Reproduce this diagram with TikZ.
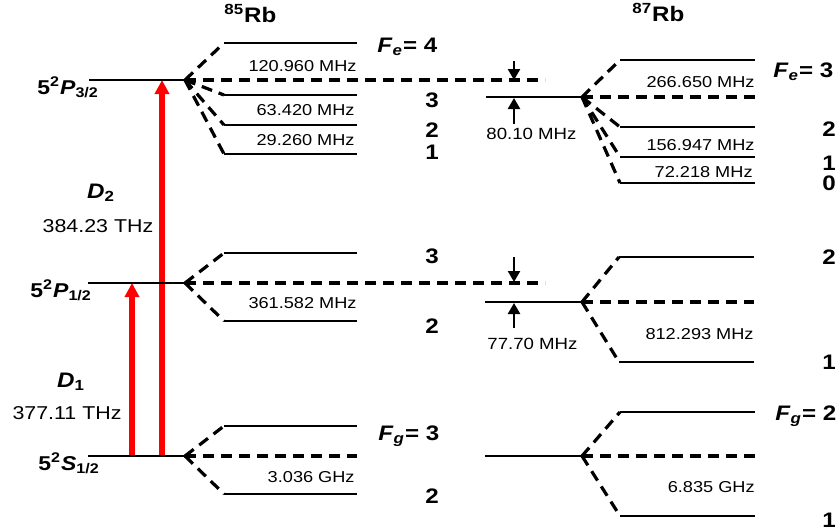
\documentclass[tikz,border=0pt]{standalone}
\usepackage{fontspec}
\setmainfont{Liberation Sans}[FakeStretch=1.15]
\usetikzlibrary{arrows.meta}

\tikzset{
  lvl/.style={line width=1.3pt},
  split/.style={line width=1.6pt, dash pattern=on 5.5pt off 3.5pt},
  freq/.style={anchor=base east, inner sep=0pt, font=\fontsize{7.9}{9}\selectfont},
  gaptext/.style={anchor=base west, inner sep=0pt, font=\fontsize{8.1}{10}\selectfont},
  thz/.style={anchor=base, inner sep=0pt, font=\fontsize{9.3}{11}\selectfont},
  quant/.style={anchor=base, inner sep=0pt, font=\bfseries\fontsize{10.5}{13}\selectfont},
  term/.style={anchor=base west, inner sep=0pt, font=\bfseries\fontsize{10}{12}\selectfont},
  pump/.style={red, line width=3pt, -{Triangle[width=7pt,length=7pt]}},
  gap/.style={line width=1.2pt, -{Triangle[width=6pt,length=5.5pt]}},
}

\begin{document}
\begin{tikzpicture}[x=0.5pt, y=-0.5pt]
  \useasboundingbox (0,0) rectangle (838,530);
  \node[term, font=\bfseries\fontsize{10.5}{12}\selectfont] (n85) at (224,22) {\textsuperscript{85}Rb};
  \node[term, font=\bfseries\fontsize{10.5}{12}\selectfont] (n87) at (632,21) {\textsuperscript{87}Rb};

  % optical transitions
  \coordinate (s1) at (132,456);
  \coordinate (p1) at (132,283);
  \coordinate (s2) at (162,456);
  \coordinate (p2) at (162,80);
  \draw[pump] (s1) -- (p1);
  \draw[pump] (s2) -- (p2);
  \node[quant] (d2) at (101,198) {\textit{D}\textsubscript{2}};
  \node[thz] (d2f) at (98,232) {384.23 THz};
  \node[quant] (d1) at (71,387) {\textit{D}\textsubscript{1}};
  \node[thz] (d1f) at (67,419) {377.11 THz};

  % 5P3/2
  \node[term] (tP3) at (37,94) {5\textsuperscript{2}\textit{P}\textsubscript{3/2}};
  \coordinate (P3a) at (89,80);
  \coordinate (P3b) at (185,80);
  \coordinate (P3c) at (545,80);
  \draw[lvl] (P3a) -- (P3b);
  \draw[split] (P3b) -- (P3c);
  \foreach \y in {43,95,125,154}{
      \coordinate (h\y) at (224,\y);
      \draw[split] (P3b) -- (h\y);
      \draw[lvl] (h\y) -- ++(133,0);
  }
  \coordinate (Q3a) at (486,97);
  \coordinate (Q3b) at (582,97);
  \coordinate (Q3c) at (755,97);
  \draw[lvl] (Q3a) -- (Q3b);
  \draw[split] (Q3b) -- (Q3c);
  \foreach \y in {60,127,157,183}{
      \coordinate (k\y) at (620,\y);
      \draw[split] (Q3b) -- (k\y);
      \draw[lvl] (k\y) -- ++(135,0);
  }
  \coordinate (u1) at (514,61);
  \coordinate (u2) at (514,80);
  \coordinate (u3) at (514,124);
  \coordinate (u4) at (514,98);
  \draw[gap] (u1) -- (u2);
  \draw[gap] (u3) -- (u4);
  \node[gaptext] (g3) at (486,139) {80.10 MHz};
  \node[freq] (f43) at (357,71) {120.960 MHz};
  \node[freq] (f32) at (355,115) {63.420 MHz};
  \node[freq] (f21) at (355,145) {29.260 MHz};
  \node[freq] (e32) at (755,87) {266.650 MHz};
  \node[freq] (e21) at (755,150) {156.947 MHz};
  \node[freq] (e10) at (753,177) {72.218 MHz};
  \node[quant, anchor=base west] (fe4) at (377,52) {\textit{F}\textsubscript{\textit{e}}= 4};
  \node[quant] (fe3) at (432,107) {3};
  \node[quant] (fe2) at (432,137) {2};
  \node[quant] (fe1) at (432,159) {1};
  \node[quant, anchor=base west] (ge3) at (773,77) {\textit{F}\textsubscript{\textit{e}}= 3};
  \node[quant] (ge2) at (829,136) {2};
  \node[quant] (ge1) at (829,170) {1};
  \node[quant] (ge0) at (829,190) {0};

  % 5P1/2
  \node[term] (tP1) at (30,297) {5\textsuperscript{2}\textit{P}\textsubscript{1/2}};
  \coordinate (P1a) at (88,283);
  \coordinate (P1b) at (185,283);
  \coordinate (P1c) at (545,283);
  \draw[lvl] (P1a) -- (P1b);
  \draw[split] (P1b) -- (P1c);
  \foreach \y in {253,321}{
      \coordinate (h\y) at (224,\y);
      \draw[split] (P1b) -- (h\y);
      \draw[lvl] (h\y) -- ++(133,0);
  }
  \coordinate (Q1a) at (485,302);
  \coordinate (Q1b) at (582,302);
  \coordinate (Q1c) at (754,302);
  \draw[lvl] (Q1a) -- (Q1b);
  \draw[split] (Q1b) -- (Q1c);
  \foreach \y in {257,362}{
      \coordinate (k\y) at (619,\y);
      \draw[split] (Q1b) -- (k\y);
      \draw[lvl] (k\y) -- ++(135,0);
  }
  \coordinate (v1) at (514,257);
  \coordinate (v2) at (514,282);
  \coordinate (v3) at (514,328);
  \coordinate (v4) at (514,303);
  \draw[gap] (v1) -- (v2);
  \draw[gap] (v3) -- (v4);
  \node[gaptext] (g1) at (487,349) {77.70 MHz};
  \node[freq] (f1) at (357,308) {361.582 MHz};
  \node[freq] (e1) at (754,339) {812.293 MHz};
  \node[quant] (fp3) at (432,263) {3};
  \node[quant] (fp2) at (432,333) {2};
  \node[quant] (gp2) at (829,264) {2};
  \node[quant] (gp1) at (829,369) {1};

  % 5S1/2
  \node[term] (tS) at (38,470) {5\textsuperscript{2}\textit{S}\textsubscript{1/2}};
  \coordinate (Sa) at (88,456);
  \coordinate (Sb) at (185,456);
  \coordinate (Sc) at (357,456);
  \draw[lvl] (Sa) -- (Sb);
  \draw[split] (Sb) -- (Sc);
  \foreach \y in {426,494}{
      \coordinate (h\y) at (224,\y);
      \draw[split] (Sb) -- (h\y);
      \draw[lvl] (h\y) -- ++(133,0);
  }
  \coordinate (Ta) at (485,456);
  \coordinate (Tb) at (582,456);
  \coordinate (Tc) at (755,456);
  \draw[lvl] (Ta) -- (Tb);
  \draw[split] (Tb) -- (Tc);
  \foreach \y in {412,516}{
      \coordinate (k\y) at (620,\y);
      \draw[split] (Tb) -- (k\y);
      \draw[lvl] (k\y) -- ++(135,0);
  }
  \node[freq] (fs) at (355,482) {3.036 GHz};
  \node[freq] (es) at (755,492) {6.835 GHz};
  \node[quant, anchor=base west] (fg3) at (378,440) {\textit{F}\textsubscript{\textit{g}}= 3};
  \node[quant] (fg2) at (432,503) {2};
  \node[quant, anchor=base west] (gg2) at (775,420) {\textit{F}\textsubscript{\textit{g}}= 2};
  \node[quant] (gg1) at (829,527) {1};
\end{tikzpicture}
\end{document}
